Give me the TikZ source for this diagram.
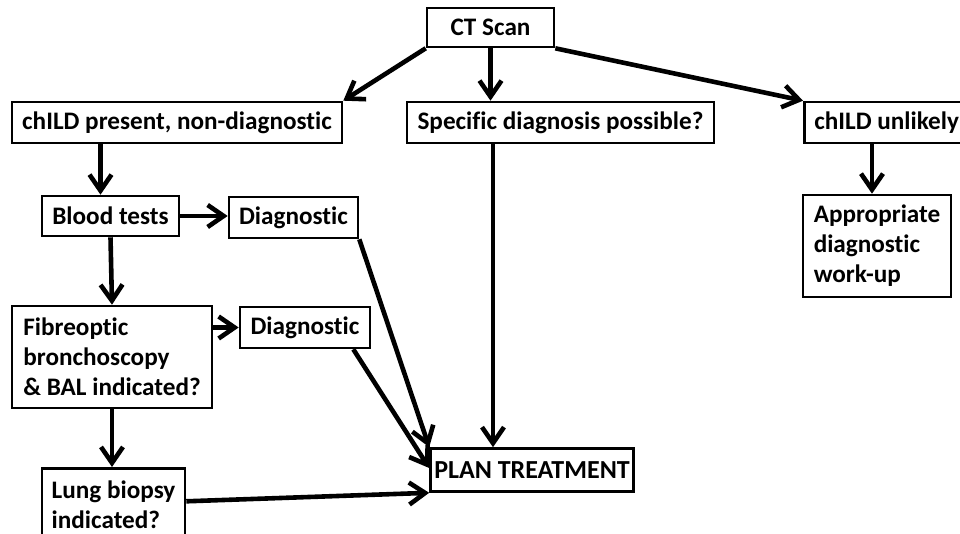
\documentclass[tikz,border=0pt]{standalone}
\usepackage{fontspec}
\setmainfont{Carlito}[Ligatures=NoCommon]
\usetikzlibrary{arrows.meta}

\begin{document}
\begin{tikzpicture}[x=.5pt,y=-.5pt,
    box/.style={draw,line width=1.3pt,rectangle,inner sep=0pt,font=\fontsize{12.6pt}{15pt}\selectfont\bfseries},
    arr/.style={line width=2.3pt,-{Straight Barb[length=8pt,width=11pt,line width=2.3pt]}}]
      \useasboundingbox (0,0) rectangle (960,534);
      \node [box,minimum width=63.5pt,minimum height=19.5pt] (ct) at (490.5,27.5) {CT Scan};
      \node [box,minimum width=165pt,minimum height=20.5pt] (pres) at (177,122.5) {chILD present, non-diagnostic};
      \node [box,minimum width=153.5pt,minimum height=20.5pt] (spec) at (560.5,122.5) {Specific diagnosis possible?};
      \node [box,minimum height=20.5pt,inner xsep=5pt,anchor=west] (unl) at (803,122.5) {chILD unlikely};
      \node [box,minimum width=68.5pt,minimum height=20pt] (blood) at (110.5,216) {Blood tests};
      \node [box,minimum width=64.5pt,minimum height=20.5pt] (diag1) at (293.5,217.5) {Diagnostic};
      \node [box,minimum width=100pt,minimum height=51pt,align=left] (fib) at (112,357)
        {Fibreoptic\\bronchoscopy\\\& BAL indicated?};
      \node [box,minimum width=65pt,minimum height=20.5pt] (diag2) at (305,327.5) {Diagnostic};
      \node [box,minimum width=71.5pt,minimum height=36pt,align=left,anchor=north] (lung) at (113.5,467)
        {Lung biopsy\\indicated?};
      \node [box,minimum width=101.5pt,minimum height=21.5pt,font=\fontsize{13pt}{15pt}\selectfont\bfseries] (plan) at (532,470) {PLAN TREATMENT};
      \node [box,minimum width=74pt,minimum height=51pt,align=left] (app) at (877,246)
        {Appropriate\\diagnostic\\work-up};
      % arrows
      \draw [arr] (ct.south west) -- (pres.north east);
      \draw [arr] (ct.south) -- (ct.south |- spec.north);
      \draw [arr] (ct.south east) -- (unl.north west);
      \draw [arr] ([xshift=-5pt]blood.north |- pres.south) -- ([xshift=-5pt]blood.north);
      \draw [arr] (blood.east) -- (blood.east -| diag1.west);
      \draw [arr] (blood.south) -- (fib.north);
      \draw [arr] (diag1.south east) -- (plan.north west);
      \draw [arr] (fib.east |- diag2.west) -- (diag2.west);
      \draw [arr] ([xshift=-9pt]diag2.south east) -- ([yshift=1pt]plan.west);
      \draw [arr] ([xshift=-19.5pt]plan.north |- spec.south) -- ([xshift=-19.5pt]plan.north);
      \draw [arr] (fib.south) -- (fib.south |- lung.north);
      \draw [arr] ([yshift=1.5pt]lung.east) -- (plan.south west);
      \draw [arr] ([xshift=-2.5pt]app.north |- unl.south) -- ([xshift=-2.5pt]app.north);
\end{tikzpicture}
\end{document}
